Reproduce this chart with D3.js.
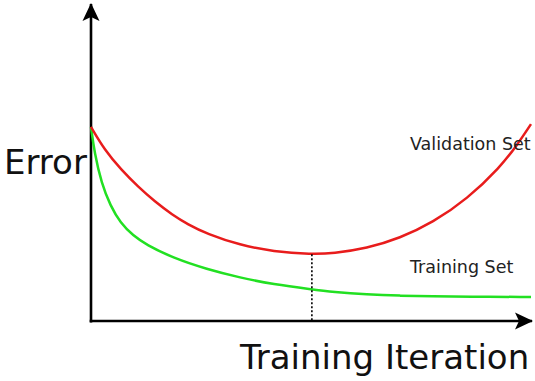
<!DOCTYPE html>
<html>
<head>
<meta charset="utf-8">
<script src="https://cdn.jsdelivr.net/npm/d3@7"></script>
<style>
  html, body { margin: 0; padding: 0; background: #fff; }
  svg { display: block; font-family: "DejaVu Sans", sans-serif; }
</style>
</head>
<body>
<svg id="chart" width="535" height="381"></svg>
<script>
// iteration (0-100) vs error (0-100)
const validationX = [0, 3.1, 6.9, 10.7, 14.5, 18.5, 22, 26.3, 33.9, 41.4, 50.2, 55, 62.7, 70.2, 77.7, 85.5, 93, 96.8, 100]
const validationY = [61.4, 54.1, 47.8, 42.5, 37.8, 33.6, 30.6, 27.6, 24.0, 22.0, 21.1, 21.4, 23.0, 26.2, 31.2, 38.6, 48.7, 55.6, 62.3]
const trainingX = [0, 0.8, 2.4, 4.4, 6.7, 9.6, 12.5, 18.7, 26.3, 33.9, 41.4, 50.2, 55, 62.7, 70.2, 77.7, 85.5, 100]
const trainingY = [61.4, 53.2, 43.5, 36.5, 31.0, 27.0, 24.2, 19.9, 16.4, 13.7, 11.6, 10.0, 9.2, 8.4, 8.0, 7.8, 7.7, 7.6]
const bestIteration = 50.2
const labels = ['Validation Set', 'Training Set']

const svg = d3.select('#chart')
const x = d3.scaleLinear().domain([0, 100]).range([91, 531])
const y = d3.scaleLinear().domain([0, 100]).range([321, 5])

const defs = svg.append('defs')
defs.append('marker')
  .attr('id', 'arrow')
  .attr('markerUnits', 'userSpaceOnUse')
  .attr('viewBox', '-20 -10 22 20')
  .attr('refX', 0)
  .attr('refY', 0)
  .attr('markerWidth', 22)
  .attr('markerHeight', 20)
  .attr('orient', 'auto')
  .append('path')
  .attr('d', 'M1,0 L-17,-8.5 L-13,0 L-17,8.5 Z')
  .attr('fill', '#000')

// axes with arrowheads
svg.append('line')
  .attr('x1', x(0)).attr('y1', y(0) + 1.5)
  .attr('x2', x(0)).attr('y2', y(100) - 1)
  .attr('stroke', '#000').attr('stroke-width', 2.6)
  .attr('marker-end', 'url(#arrow)')
svg.append('line')
  .attr('x1', x(0) - 1.3).attr('y1', y(0))
  .attr('x2', x(100) + 1).attr('y2', y(0))
  .attr('stroke', '#000').attr('stroke-width', 2.6)
  .attr('marker-end', 'url(#arrow)')

const line = d3.line()
  .x(d => x(d[0]))
  .y(d => y(d[1]))
  .curve(d3.curveBasis)

svg.append('path')
  .datum(trainingX.map((v, i) => [v, trainingY[i]]))
  .attr('d', line)
  .attr('fill', 'none')
  .attr('stroke', '#22e022')
  .attr('stroke-width', 2.5)

svg.append('path')
  .datum(validationX.map((v, i) => [v, validationY[i]]))
  .attr('d', line)
  .attr('fill', 'none')
  .attr('stroke', '#e81c1c')
  .attr('stroke-width', 2.5)

// dotted line at the validation minimum
const minY = d3.min(validationY)
svg.append('line')
  .attr('x1', x(bestIteration)).attr('y1', y(minY))
  .attr('x2', x(bestIteration)).attr('y2', y(0))
  .attr('stroke', '#000').attr('stroke-width', 1.6)
  .attr('stroke-dasharray', '2,2')

// texts
svg.append('text')
  .attr('x', 410).attr('y', 150)
  .attr('font-size', 17.5).attr('fill', '#222')
  .text(labels[0])
svg.append('text')
  .attr('x', 410).attr('y', 273)
  .attr('font-size', 17.5).attr('fill', '#222')
  .text(labels[1])
svg.append('text')
  .attr('x', 4).attr('y', 174)
  .attr('font-size', 34).attr('fill', '#111')
  .text('Error')
svg.append('text')
  .attr('x', 240).attr('y', 369)
  .attr('font-size', 34).attr('fill', '#111')
  .text('Training Iteration')
</script>
</body>
</html>
